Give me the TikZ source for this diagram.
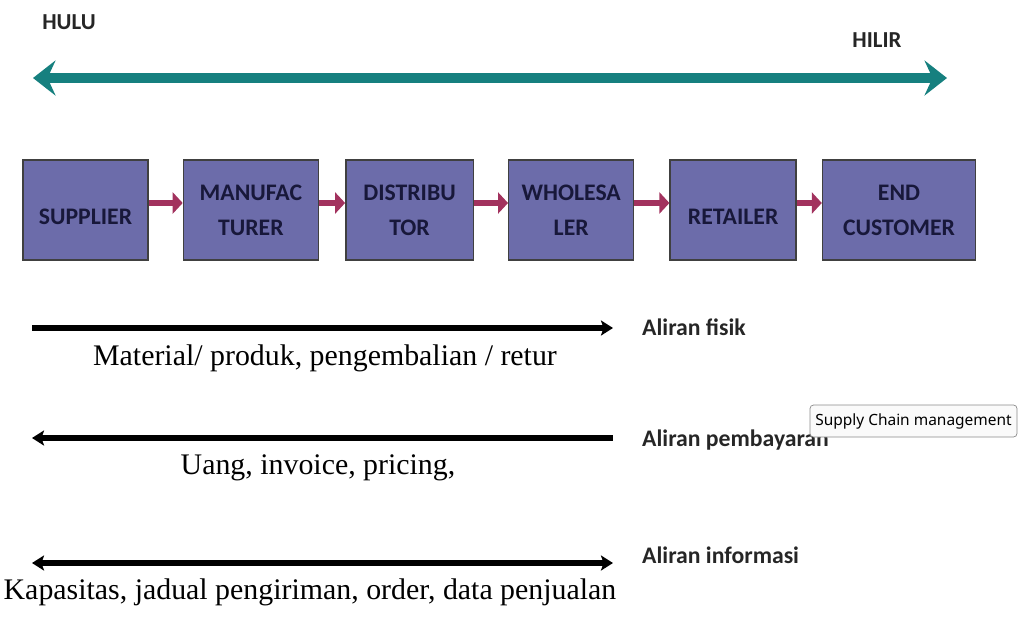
\documentclass[tikz,border=0pt]{standalone}
\usepackage{fontspec}
\setmainfont{Liberation Serif}
\newfontfamily\chainfont{Carlito}
\newfontfamily\tipfont{Noto Sans}
\usepackage{tikz}
\usetikzlibrary{arrows.meta,positioning}
\definecolor{ChainBox}{HTML}{6C6CAA}
\definecolor{ChainText}{HTML}{18183A}
\definecolor{ChainLink}{HTML}{A2325E}
\definecolor{ChainTeal}{HTML}{16807F}
\definecolor{TipGray}{HTML}{8A8A8A}
\tikzset{
  member/.style={draw=black!75, thick, fill=ChainBox, text=ChainText,
    font=\chainfont\bfseries\fontsize{13.5}{20}\selectfont, align=center,
    minimum height=2cm, inner sep=1pt, execute at begin node={\rule{0pt}{17pt}}},
  link/.style={draw=ChainLink, line width=3pt, -{Triangle[length=2mm,width=4.2mm]}},
  stream/.style={draw=ChainTeal, line width=6pt,
    {Stealth[length=4.5mm,width=7mm,inset=1.6mm]}-{Stealth[length=4.5mm,width=7mm,inset=1.6mm]}},
  flow/.style={draw=black, line width=3.4pt},
  flowtip/.tip={Stealth[length=2.4mm,width=3mm,inset=0.5mm]},
  sidename/.style={font=\chainfont\bfseries\fontsize{13}{15}\selectfont, text=black!85},
  flowname/.style={anchor=west, font=\chainfont\bfseries\fontsize{13.5}{16}\selectfont, text=black!85},
  content/.style={font=\fontsize{17}{20}\selectfont},
  tooltip/.style={draw=TipGray, rounded corners=2pt, fill=black!2, inner sep=3pt,
    minimum width=4.14cm, minimum height=0.64cm, font=\tipfont\fontsize{8.8}{11}\selectfont}
}
\begin{document}
\begin{tikzpicture}[node distance=0.64cm]
  \useasboundingbox (0,0) rectangle (20.5,-12.32);
  % upstream - downstream
  \node[sidename] (hulu) at (1.38,-0.44) {HULU};
  \node[sidename] (hilir) at (17.54,-0.8) {HILIR};
  \coordinate (upL) at (0.66,-1.56);
  \coordinate (upR) at (18.94,-1.56);
  \draw[stream] (upL) -- (upR);

  % members of the chain
  \node[member, minimum width=2.5cm] (supplier) at (1.71,-4.2) {SUPPLIER};
  \node[member, minimum width=2.7cm, right=0.68cm of supplier] (manuf) {MANUFAC\\TURER};
  \node[member, minimum width=2.55cm, right=0.52cm of manuf] (distrib) {DISTRIBU\\TOR};
  \node[member, minimum width=2.5cm, right=0.68cm of distrib] (wholesale) {WHOLESA\\LER};
  \node[member, minimum width=2.52cm, right=0.7cm of wholesale] (retailer) {RETAILER};
  \node[member, minimum width=3.06cm, right=0.5cm of retailer] (customer) {END\\CUSTOMER};
  \foreach \a/\b in {supplier/manuf,manuf/distrib,distrib/wholesale,wholesale/retailer,retailer/customer}
    \draw[link] ([yshift=1.4mm]\a.east) -- ([yshift=1.4mm]\b.west);

  % flows
  \coordinate (fisikL) at (0.64,-6.56);
  \coordinate (fisikR) at (12.26,-6.56);
  \draw[flow, -flowtip] (fisikL) -- (fisikR);
  \node[flowname] (fisik) at (12.72,-6.54) {Aliran fisik};
  \node[content] (material) at (6.5,-7.16) {Material/ produk, pengembalian / retur};

  \coordinate (bayarL) at (0.64,-8.76);
  \coordinate (bayarR) at (12.26,-8.76);
  \draw[flow, flowtip-] (bayarL) -- (bayarR);
  \node[flowname] (bayar) at (12.72,-8.8) {Aliran pembayaran};
  \node[content] (uang) at (6.36,-9.36) {Uang, invoice, pricing,};

  \coordinate (infoL) at (0.64,-11.26);
  \coordinate (infoR) at (12.26,-11.26);
  \draw[flow, flowtip-flowtip] (infoL) -- (infoR);
  \node[flowname] (info) at (12.72,-11.1) {Aliran informasi};
  \node[content] (kapasitas) at (6.2,-11.84) {Kapasitas, jadual pengiriman, order, data penjualan};

  \node[tooltip] (tip) at (18.27,-8.42) {Supply Chain management};
\end{tikzpicture}
\end{document}
